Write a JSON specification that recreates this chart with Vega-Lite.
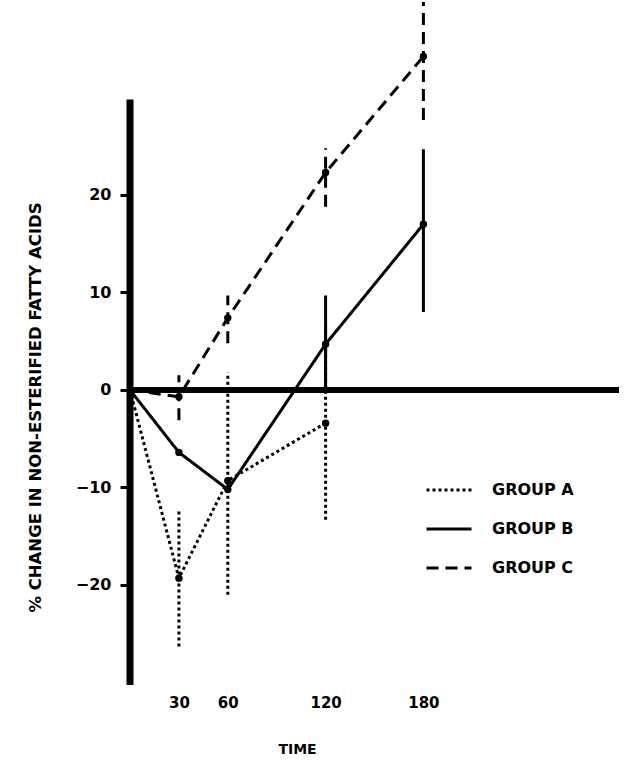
{
  "$schema": "https://vega.github.io/schema/vega-lite/v6.json",
  "width": 489,
  "height": 685,
  "autosize": {"type": "none"},
  "padding": {"left": 130, "top": 0, "right": 11, "bottom": 75},
  "background": "white",
  "config": {
    "view": {"stroke": null},
    "font": "DejaVu Sans",
    "legend": {
      "symbolStrokeColor": "black",
      "symbolFillColor": "transparent",
      "labelColor": "black"
    }
  },
  "datasets": {
    "lines": [
      {"group": "GROUP A", "time": 0, "value": 0},
      {"group": "GROUP A", "time": 30, "value": -19.3},
      {"group": "GROUP A", "time": 60, "value": -9.3},
      {"group": "GROUP A", "time": 120, "value": -3.4},
      {"group": "GROUP B", "time": 0, "value": 0},
      {"group": "GROUP B", "time": 30, "value": -6.4},
      {"group": "GROUP B", "time": 60, "value": -10.2},
      {"group": "GROUP B", "time": 120, "value": 4.7},
      {"group": "GROUP B", "time": 180, "value": 17.0},
      {"group": "GROUP C", "time": 0, "value": 0},
      {"group": "GROUP C", "time": 30, "value": -0.7},
      {"group": "GROUP C", "time": 60, "value": 7.4},
      {"group": "GROUP C", "time": 120, "value": 22.3},
      {"group": "GROUP C", "time": 180, "value": 34.2}
    ],
    "bars": [
      {"group": "GROUP A", "time": 30, "lo": -26.3, "hi": -12.3},
      {"group": "GROUP A", "time": 60, "lo": -21.0, "hi": 1.8},
      {"group": "GROUP A", "time": 120, "lo": -13.3, "hi": 6.5},
      {"group": "GROUP B", "time": 120, "lo": -0.3, "hi": 9.7},
      {"group": "GROUP B", "time": 180, "lo": 8.0, "hi": 24.7},
      {"group": "GROUP C", "time": 30, "lo": -3.1, "hi": 1.5},
      {"group": "GROUP C", "time": 60, "lo": 4.8, "hi": 9.7},
      {"group": "GROUP C", "time": 120, "lo": 18.8, "hi": 24.8},
      {"group": "GROUP C", "time": 180, "lo": 27.7, "hi": 39.8}
    ]
  },
  "layer": [
    {
      "data": {"values": [{}]},
      "mark": {"type": "rule", "color": "black", "strokeWidth": 6},
      "encoding": {
        "y": {"datum": 0, "type": "quantitative"}
      }
    },
    {
      "data": {"values": [{}]},
      "mark": {"type": "rule", "color": "black", "strokeWidth": 7},
      "encoding": {
        "x": {"datum": 0, "type": "quantitative"},
        "y": {"datum": -30.26, "type": "quantitative"},
        "y2": {"datum": 29.8}
      }
    },
    {
      "data": {"name": "bars"},
      "mark": {"type": "rule", "color": "black", "strokeWidth": 3},
      "encoding": {
        "x": {"field": "time", "type": "quantitative"},
        "y": {"field": "lo", "type": "quantitative"},
        "y2": {"field": "hi"},
        "strokeDash": {"field": "group", "type": "nominal"}
      }
    },
    {
      "data": {"name": "lines"},
      "mark": {"type": "line", "color": "black", "strokeWidth": 3},
      "encoding": {
        "x": {
          "field": "time",
          "type": "quantitative",
          "scale": {"domain": [0, 300], "nice": false, "zero": false},
          "axis": {
            "title": "TIME",
            "values": [30, 60, 120, 180],
            "format": "d",
            "grid": false,
            "domain": false,
            "ticks": false,
            "tickSize": 0,
            "labelPadding": 10,
            "labelFontSize": 15,
            "labelFontWeight": "bold",
            "labelColor": "black",
            "labelBaseline": "top",
            "titleFontSize": 14,
            "titleFontWeight": "bold",
            "titleColor": "black",
            "titleX": 167,
            "titleY": 64,
            "titleAlign": "center",
            "titleBaseline": "middle"
          }
        },
        "y": {
          "field": "value",
          "type": "quantitative",
          "scale": {"domain": [-30.26, 40], "nice": false, "zero": false},
          "axis": {
            "title": "% CHANGE IN NON-ESTERIFIED FATTY ACIDS",
            "values": [-20, -10, 0, 10, 20],
            "format": "d",
            "grid": false,
            "domain": false,
            "tickSize": 10,
            "tickWidth": 3,
            "tickColor": "black",
            "labelPadding": 9,
            "labelFontSize": 16,
            "labelFontWeight": "bold",
            "labelColor": "black",
            "titleFontSize": 16.5,
            "titleFontWeight": "bold",
            "titleColor": "black",
            "titleX": -95,
            "titleY": 407,
            "titleAngle": 270,
            "titleAlign": "center",
            "titleBaseline": "middle"
          }
        },
        "strokeDash": {
          "field": "group",
          "type": "nominal",
          "scale": {"domain": ["GROUP A", "GROUP B", "GROUP C"], "range": [[3, 3], [1, 0], [12, 7]]},
          "legend": {
            "title": null,
            "orient": "none",
            "legendX": 295,
            "legendY": 466,
            "padding": 0,
            "symbolType": "stroke",
            "symbolSize": 2025,
            "symbolStrokeWidth": 3,
            "symbolStrokeColor": "black",
            "rowPadding": 7,
            "labelOffset": 19,
            "labelFontSize": 16,
            "labelFontWeight": "bold",
            "labelColor": "black"
          }
        }
      }
    },
    {
      "data": {"name": "lines"},
      "transform": [{"filter": "datum.time > 0"}],
      "mark": {"type": "circle", "color": "black", "size": 55, "opacity": 1},
      "encoding": {
        "x": {"field": "time", "type": "quantitative"},
        "y": {"field": "value", "type": "quantitative"}
      }
    }
  ]
}
